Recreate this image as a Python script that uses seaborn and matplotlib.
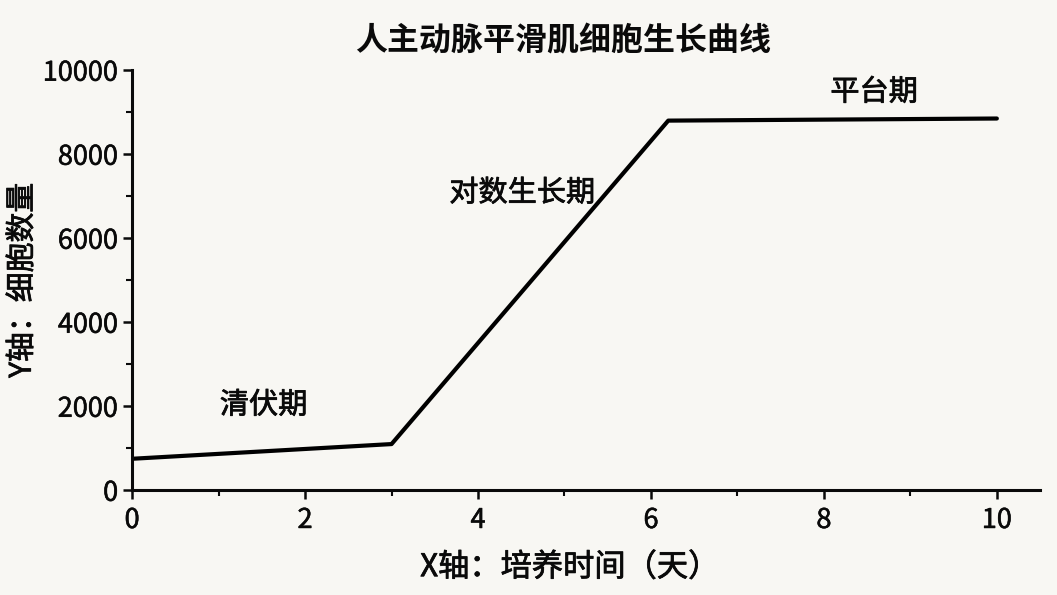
import matplotlib
matplotlib.use("Agg")
import matplotlib.pyplot as plt
import matplotlib.patheffects as pe
import seaborn as sns
import pandas as pd
from matplotlib.ticker import MultipleLocator

# growth curve break points
days = [0, 3, 6.2, 10]
cells = [750, 1100, 8800, 8850]

phase_names = ["清伏期", "对数生长期", "平台期"]
phase_x = [1.52, 4.51, 8.58]
phase_y = [2020, 7070, 9470]

BG = "#f8f7f3"
INK = "#0a0a0a"
thick = [pe.withStroke(linewidth=0.55, foreground=INK)]

sns.set_theme(style="ticks")
plt.rcParams["font.family"] = ["Noto Sans CJK SC", "DejaVu Sans"]

df = pd.DataFrame({"day": days, "cells": cells})

fig = plt.figure(figsize=(10.57, 5.95), dpi=100, facecolor=BG)
ax = fig.add_axes([0.125, 0.176, 0.859, 0.706])
ax.set_facecolor(BG)

sns.lineplot(data=df, x="day", y="cells", ax=ax, color="black", linewidth=3.0)

for name, x, y in zip(phase_names, phase_x, phase_y):
    ax.text(x, y, name, ha="center", va="center", fontsize=21, color=INK, path_effects=thick)

ax.set_xlim(0, 10.5)
ax.set_ylim(0, 10000)
ax.xaxis.set_major_locator(MultipleLocator(2))
ax.xaxis.set_minor_locator(MultipleLocator(1))
ax.yaxis.set_major_locator(MultipleLocator(2000))
ax.yaxis.set_minor_locator(MultipleLocator(1000))

for side in ["top", "right"]:
    ax.spines[side].set_visible(False)
for side in ["left", "bottom"]:
    ax.spines[side].set_linewidth(2.2)
    ax.spines[side].set_color(INK)

ax.tick_params(which="major", direction="out", length=6.5, width=1.8, labelsize=19.5, colors=INK, pad=3.5)
ax.tick_params(axis="x", which="major", pad=5.5)
ax.tick_params(which="minor", direction="out", length=4, width=1.5, colors=INK)
for lab in ax.get_xticklabels() + ax.get_yticklabels():
    lab.set_path_effects([pe.withStroke(linewidth=0.4, foreground=INK)])

ax.set_xlabel("X轴：培养时间（天）", fontsize=22.5, color=INK, path_effects=thick)
ax.xaxis.set_label_coords(0.482, -0.145)
ax.set_ylabel("Y轴：细胞数量", fontsize=21.5, color=INK, path_effects=thick)
ax.yaxis.set_label_coords(-0.121, 0.5)
ax.yaxis.label.set_va("center")
ax.set_title("人主动脉平滑肌细胞生长曲线", fontsize=23, fontweight="bold", color=INK, x=0.475, pad=14)

fig.savefig("out.png", dpi=100, facecolor=BG)
